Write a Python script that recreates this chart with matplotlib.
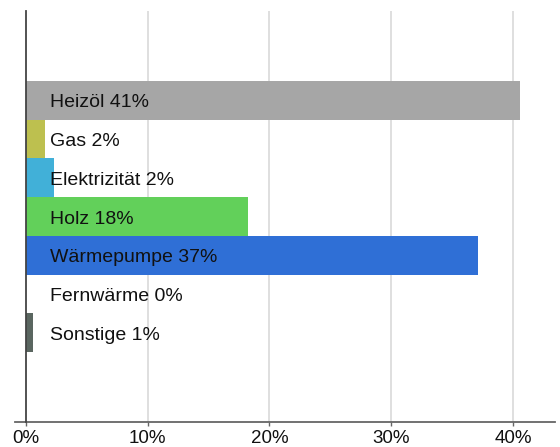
import matplotlib.pyplot as plt

plt.rcParams['font.family'] = ['Liberation Sans', 'DejaVu Sans']

categories = ["Heizöl", "Gas", "Elektrizität", "Holz", "Wärmepumpe", "Fernwärme", "Sonstige"]
values = [40.6, 1.6, 2.3, 18.2, 37.1, 0.0, 0.6]
labels = ["41%", "2%", "2%", "18%", "37%", "0%", "1%"]
colors = ["#a6a6a6", "#bdc04f", "#41b0d8", "#62d05a", "#2f6fd6", "#ffffff", "#5a6660"]
ticks = [0, 10, 20, 30, 40]

fig = plt.figure(figsize=(5.6, 4.47), dpi=100)
ax = fig.add_axes([15 / 560, 1 - 422 / 447, 540 / 560, 411 / 447])

ypos = list(range(len(categories)))
ax.barh(ypos, values, height=1.0, color=colors, zorder=2)
for y, c, l in zip(ypos, categories, labels):
    ax.text(2.0, y + 0.07, c + " " + l, va="center", ha="left", fontsize=14, color="#111111", zorder=3)

ax.set_xlim(-0.9, 43.45)
ax.set_ylim(6.5 + 1.8, -0.5 - 1.8)

ax.set_xticks(ticks)
ax.set_xticklabels([str(t) + "%" for t in ticks], fontsize=13.5)
ax.set_yticks([])
for t in ticks[1:]:
    ax.axvline(t, color="#d9d9d9", lw=1.2, zorder=1)

ax.spines['top'].set_visible(False)
ax.spines['right'].set_visible(False)
ax.spines['left'].set_position(('data', 0))
ax.spines['left'].set_color("#444444")
ax.spines['left'].set_linewidth(1.3)
ax.spines['left'].set_zorder(4)
ax.spines['bottom'].set_color("#666666")
ax.spines['bottom'].set_linewidth(1.3)
ax.tick_params(axis='x', length=3, width=1, color="#666666", pad=2.5, labelcolor="#111111")

fig.savefig("out.png", dpi=100)
